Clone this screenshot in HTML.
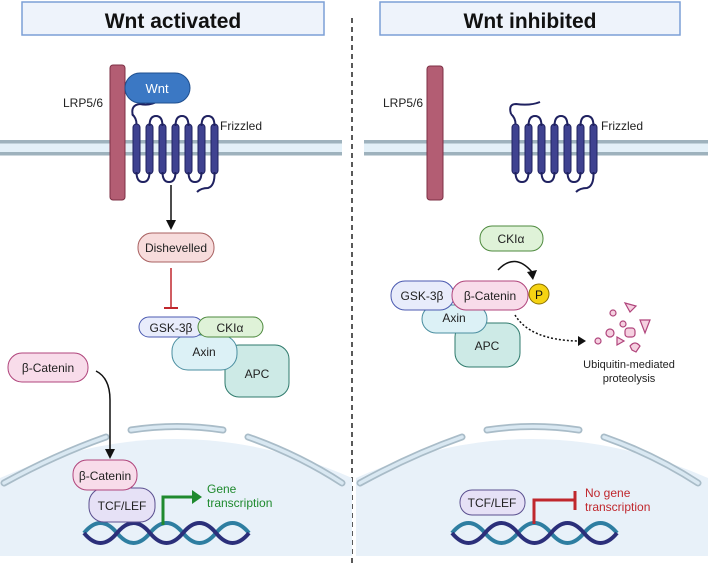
<!DOCTYPE html>
<html><head><meta charset="utf-8"><style>
html,body{margin:0;padding:0;background:#fff;}
svg{display:block;font-family:"Liberation Sans",sans-serif;}
</style></head><body>
<svg width="708" height="563" viewBox="0 0 708 563" xmlns="http://www.w3.org/2000/svg">
<defs>
<g id="fz">
  <g fill="#3f4290" stroke="#1f2160" stroke-width="1">
    <rect x="0" y="124" width="7" height="50" rx="3.5"/>
    <rect x="13" y="124" width="7" height="50" rx="3.5"/>
    <rect x="26" y="124" width="7" height="50" rx="3.5"/>
    <rect x="39" y="124" width="7" height="50" rx="3.5"/>
    <rect x="52" y="124" width="7" height="50" rx="3.5"/>
    <rect x="65" y="124" width="7" height="50" rx="3.5"/>
    <rect x="78" y="124" width="7" height="50" rx="3.5"/>
  </g>
  <g fill="none" stroke="#1f2160" stroke-width="2">
    <path d="M3.5 124 Q3.5 118 -1 114"/>
    <path d="M16.5 126 Q16.5 116 23 116 Q29.5 116 29.5 126"/>
    <path d="M42.5 126 Q42.5 116 49 116 Q55.5 116 55.5 126"/>
    <path d="M68.5 126 Q68.5 116 75 116 Q81.5 116 81.5 126"/>
    <path d="M3.5 172 Q3.5 182 10 182 Q16.5 182 16.5 172"/>
    <path d="M29.5 172 Q29.5 182 36 182 Q42.5 182 42.5 172"/>
    <path d="M55.5 172 Q55.5 182 62 182 Q68.5 182 68.5 172"/>
    <path d="M81.5 172 Q82 186 75 188 Q68 188 64 192"/>
  </g>
</g>
<g id="nuc">
  <path d="M0 478 Q175 400 352 478 L352 556 L0 556 Z" fill="#e8f1f9"/>
  <g fill="none" stroke="#a9bcc8" stroke-width="7" stroke-linecap="round">
    <path d="M4 483 Q55 455 106 437"/>
    <path d="M131 430 Q177 423 223 430"/>
    <path d="M248 437 Q299 455 342 483"/>
  </g>
  <g fill="none" stroke="#d9e8f2" stroke-width="3.5" stroke-linecap="round">
    <path d="M4 483 Q55 455 106 437"/>
    <path d="M131 430 Q177 423 223 430"/>
    <path d="M248 437 Q299 455 342 483"/>
  </g>
</g>
<g id="dna" fill="none" stroke-width="4">
  <path d="M0 6 Q16.5 -14 33 6 T66 6 T99 6 T132 6 T165 6" stroke="#2e7ea1"/>
  <path d="M0 6 Q16.5 26 33 6 T66 6 T99 6 T132 6 T165 6" stroke="#2b2f7a"/>
</g>
</defs>

<rect x="0" y="142" width="342" height="13" fill="#e3f0f8"/>
<rect x="0" y="140" width="342" height="3.5" fill="#9eb2bd"/>
<rect x="0" y="152" width="342" height="3.5" fill="#9eb2bd"/>
<rect x="364" y="142" width="344" height="13" fill="#e3f0f8"/>
<rect x="364" y="140" width="344" height="3.5" fill="#9eb2bd"/>
<rect x="364" y="152" width="344" height="3.5" fill="#9eb2bd"/>

<line x1="352" y1="18" x2="352" y2="563" stroke="#222" stroke-width="1.5" stroke-dasharray="5,4"/>

<rect x="22" y="2" width="302" height="33" fill="#eef3fb" stroke="#7c9fd6" stroke-width="1.5"/>
<text x="173" y="28" text-anchor="middle" font-size="21" font-weight="bold" fill="#111">Wnt activated</text>
<rect x="380" y="2" width="300" height="33" fill="#eef3fb" stroke="#7c9fd6" stroke-width="1.5"/>
<text x="530" y="28" text-anchor="middle" font-size="21" font-weight="bold" fill="#111">Wnt inhibited</text>

<use href="#nuc"/>
<use href="#nuc" x="356"/>

<rect x="110" y="65" width="15" height="135" rx="3" fill="#b35d73" stroke="#7d3044"/>
<text x="63" y="107" font-size="12" fill="#222">LRP5/6</text>
<use href="#fz" x="133"/>
<path d="M133 116 Q130 105 140 104 Q150 106 158 101" fill="none" stroke="#1f2160" stroke-width="2"/>
<rect x="125" y="73" width="65" height="30" rx="15" fill="#3b78c4" stroke="#1f4f8f"/>
<text x="157" y="93" text-anchor="middle" font-size="13" fill="#fff">Wnt</text>
<text x="220" y="130" font-size="12" fill="#222">Frizzled</text>
<line x1="171" y1="185" x2="171" y2="222" stroke="#111" stroke-width="1.5"/>
<path d="M166 220 L171 230 L176 220 Z" fill="#111"/>
<rect x="138" y="233" width="76" height="29" rx="14" fill="#f7dcdc" stroke="#a86060"/>
<text x="176" y="252" text-anchor="middle" font-size="12" fill="#222">Dishevelled</text>
<line x1="171" y1="268" x2="171" y2="308" stroke="#c0272d" stroke-width="1.5"/>
<line x1="164" y1="308" x2="178" y2="308" stroke="#c0272d" stroke-width="2"/>

<rect x="225" y="345" width="64" height="52" rx="14" fill="#cdeae6" stroke="#2f7a6c"/>
<text x="257" y="378" text-anchor="middle" font-size="12" fill="#222">APC</text>
<rect x="172" y="335" width="65" height="35" rx="16" fill="#dcf1f6" stroke="#4a8ea0"/>
<text x="204" y="356" text-anchor="middle" font-size="12" fill="#222">Axin</text>
<rect x="139" y="317" width="64" height="20" rx="10" fill="#e8ecfb" stroke="#4b5ab0"/>
<text x="171" y="332" text-anchor="middle" font-size="12" fill="#222">GSK-3β</text>
<rect x="198" y="317" width="65" height="20" rx="10" fill="#dff2d8" stroke="#4e8a3e"/>
<text x="230" y="332" text-anchor="middle" font-size="12" fill="#222">CKIα</text>

<rect x="8" y="353" width="80" height="29" rx="14" fill="#f8dcea" stroke="#b0457c"/>
<text x="48" y="372" text-anchor="middle" font-size="12" fill="#222">β-Catenin</text>
<path d="M96 371 Q110 378 110 400 L110 450" fill="none" stroke="#111" stroke-width="1.5"/>
<path d="M105 449 L110 459 L115 449 Z" fill="#111"/>

<use href="#dna" x="84" y="527"/>
<rect x="89" y="488" width="66" height="34" rx="15" fill="#e6e1f6" stroke="#5a4f8f"/>
<text x="122" y="510" text-anchor="middle" font-size="12" fill="#222">TCF/LEF</text>
<rect x="73" y="460" width="64" height="30" rx="14" fill="#f8dcea" stroke="#b0457c"/>
<text x="105" y="480" text-anchor="middle" font-size="12" fill="#222">β-Catenin</text>
<path d="M163 525 L163 497 L193 497" fill="none" stroke="#1f8a2e" stroke-width="3"/>
<path d="M192 490 L202 497 L192 504 Z" fill="#1f8a2e"/>
<text x="207" y="493" font-size="12" fill="#1f8a2e">Gene</text>
<text x="207" y="507" font-size="12" fill="#1f8a2e">transcription</text>

<rect x="427" y="66" width="16" height="134" rx="3" fill="#b35d73" stroke="#7d3044"/>
<text x="383" y="107" font-size="12" fill="#222">LRP5/6</text>
<use href="#fz" x="512"/>
<path d="M511 114 Q508 104 516 104 Q530 106 540 102" fill="none" stroke="#1f2160" stroke-width="2"/>
<text x="601" y="130" font-size="12" fill="#222">Frizzled</text>

<rect x="480" y="226" width="63" height="25" rx="12" fill="#dff2d8" stroke="#4e8a3e"/>
<text x="511" y="243" text-anchor="middle" font-size="12" fill="#222">CKIα</text>
<path d="M498 270 Q515 252 532 272" fill="none" stroke="#111" stroke-width="1.5"/>
<path d="M527 272 L533 280 L537 270 Z" fill="#111"/>
<rect x="455" y="323" width="65" height="44" rx="14" fill="#cdeae6" stroke="#2f7a6c"/>
<text x="487" y="350" text-anchor="middle" font-size="12" fill="#222">APC</text>
<rect x="422" y="305" width="65" height="28" rx="14" fill="#dcf1f6" stroke="#4a8ea0"/>
<text x="454" y="322" text-anchor="middle" font-size="12" fill="#222">Axin</text>
<rect x="391" y="281" width="63" height="29" rx="14" fill="#e8ecfb" stroke="#4b5ab0"/>
<text x="422" y="300" text-anchor="middle" font-size="12" fill="#222">GSK-3β</text>
<rect x="452" y="281" width="76" height="29" rx="14" fill="#f8dcea" stroke="#b0457c"/>
<text x="490" y="300" text-anchor="middle" font-size="12" fill="#222">β-Catenin</text>
<circle cx="539" cy="294" r="10" fill="#f5d313" stroke="#8a7000"/>
<text x="539" y="299" text-anchor="middle" font-size="12" fill="#111">P</text>
<path d="M515 315 Q530 340 578 341" fill="none" stroke="#111" stroke-width="1.5" stroke-dasharray="2,2"/>
<path d="M578 336 L586 341 L578 346 Z" fill="#111"/>
<g fill="#f5d0e0" stroke="#b0457c" stroke-width="1.2">
  <circle cx="598" cy="341" r="3"/>
  <circle cx="613" cy="313" r="3"/>
  <circle cx="623" cy="324" r="3"/>
  <circle cx="610" cy="333" r="4"/>
  <rect x="625" y="328" width="10" height="9" rx="3"/>
  <path d="M625 303 L636 306 L630 312 Z"/>
  <path d="M640 320 L650 320 L645 333 Z"/>
  <path d="M617 337 L624 341 L617 345 Z"/>
  <path d="M630 346 Q635 340 640 346 L636 352 L632 350 Z"/>
</g>
<text x="629" y="368" text-anchor="middle" font-size="11" fill="#222">Ubiquitin-mediated</text>
<text x="629" y="382" text-anchor="middle" font-size="11" fill="#222">proteolysis</text>

<use href="#dna" x="452" y="527"/>
<rect x="460" y="490" width="65" height="25" rx="12" fill="#e6e1f6" stroke="#5a4f8f"/>
<text x="492" y="507" text-anchor="middle" font-size="12" fill="#222">TCF/LEF</text>
<path d="M534 524 L534 500 L574 500" fill="none" stroke="#c0272d" stroke-width="3"/>
<line x1="575" y1="491" x2="575" y2="510" stroke="#c0272d" stroke-width="3"/>
<text x="585" y="497" font-size="12" fill="#c0272d">No gene</text>
<text x="585" y="511" font-size="12" fill="#c0272d">transcription</text>
</svg>
</body></html>
